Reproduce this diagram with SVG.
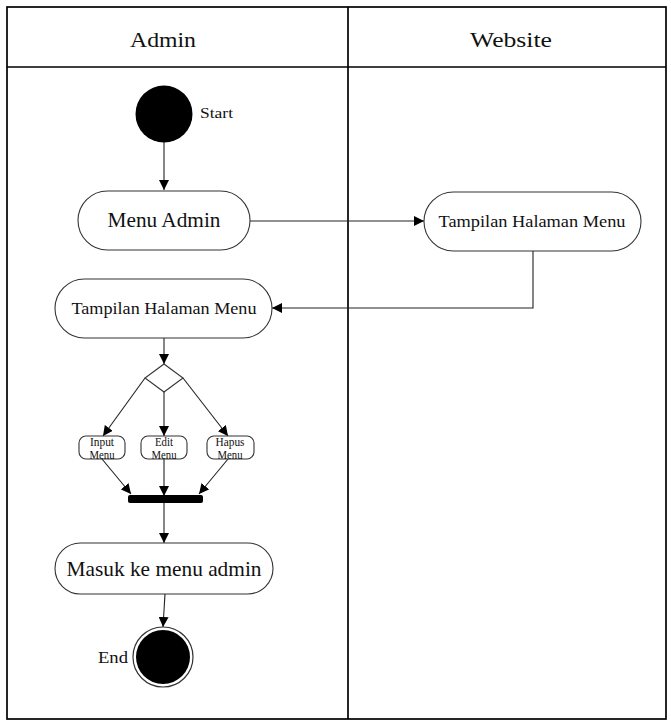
<svg xmlns="http://www.w3.org/2000/svg" width="671" height="720" viewBox="0 0 671 720">
  <style>
    text { font-family: 'Liberation Serif', 'DejaVu Serif', serif; fill: #111; }
    .lane { fill: none; stroke: #000; stroke-width: 1.7; }
    .act { fill: #fff; stroke: #333; stroke-width: 1.1; }
    .flow { fill: none; stroke: #222; stroke-width: 1.1; }
    .small { font-size: 12px; }
  </style>
  <defs>
    <marker id="arrow" viewBox="0 0 10 10" refX="10" refY="5" markerWidth="10" markerHeight="10" markerUnits="userSpaceOnUse" orient="auto">
      <path d="M0,0 L10,5 L0,10 z" fill="#000"/>
    </marker>
  </defs>

  <rect width="671" height="720" fill="#fff"/>

  <!-- swimlanes -->
  <g id="lanes">
    <rect class="lane" x="7" y="7" width="659" height="712"/>
    <line class="lane" x1="7" y1="67" x2="666" y2="67"/>
    <line class="lane" x1="348" y1="7" x2="348" y2="719"/>
    <text x="163" y="47" font-size="22" text-anchor="middle" textLength="66" lengthAdjust="spacingAndGlyphs">Admin</text>
    <text x="511" y="47" font-size="22" text-anchor="middle" textLength="82" lengthAdjust="spacingAndGlyphs">Website</text>
  </g>

  <!-- connectors -->
  <g id="connectors">
    <line class="flow" x1="164" y1="142" x2="164" y2="190" marker-end="url(#arrow)"/>
    <line class="flow" x1="250" y1="221" x2="424" y2="221" marker-end="url(#arrow)"/>
    <polyline class="flow" points="533,251 533,308 272,308" marker-end="url(#arrow)"/>
    <line class="flow" x1="164" y1="338" x2="164" y2="364" marker-end="url(#arrow)"/>
    <line class="flow" x1="145" y1="378" x2="103" y2="436" marker-end="url(#arrow)"/>
    <line class="flow" x1="164" y1="392" x2="164" y2="436" marker-end="url(#arrow)"/>
    <line class="flow" x1="183" y1="378" x2="228" y2="436" marker-end="url(#arrow)"/>
    <line class="flow" x1="102" y1="459" x2="131" y2="494" marker-end="url(#arrow)"/>
    <line class="flow" x1="164" y1="459" x2="164" y2="496" marker-end="url(#arrow)"/>
    <line class="flow" x1="228" y1="459" x2="199" y2="494" marker-end="url(#arrow)"/>
    <line class="flow" x1="164" y1="503" x2="164" y2="543" marker-end="url(#arrow)"/>
    <line class="flow" x1="165" y1="594" x2="163" y2="627" marker-end="url(#arrow)"/>
  </g>

  <g id="start">
    <circle cx="164" cy="114" r="28.5" fill="#000"/>
    <text x="200" y="118" font-size="15" textLength="33" lengthAdjust="spacingAndGlyphs">Start</text>
  </g>

  <g id="menu-admin">
    <rect class="act" x="78" y="191" width="172" height="59" rx="29.5"/>
    <text x="164" y="227" font-size="20" text-anchor="middle" textLength="113" lengthAdjust="spacingAndGlyphs">Menu Admin</text>
  </g>

  <g id="web-tampilan">
    <rect class="act" x="424" y="192" width="217" height="59" rx="29.5"/>
    <text x="532" y="227" font-size="17" text-anchor="middle" textLength="187" lengthAdjust="spacingAndGlyphs">Tampilan Halaman Menu</text>
  </g>

  <g id="admin-tampilan">
    <rect class="act" x="55" y="279" width="217" height="59" rx="29.5"/>
    <text x="164" y="314" font-size="17" text-anchor="middle" textLength="185" lengthAdjust="spacingAndGlyphs">Tampilan Halaman Menu</text>
  </g>

  <g id="decision">
    <polygon class="act" points="164,364 183,378 164,392 145,378"/>
  </g>

  <g id="input-menu">
    <rect class="act" x="79" y="436" width="46" height="23" rx="7"/>
    <text class="small" x="102" y="446" text-anchor="middle" textLength="24" lengthAdjust="spacingAndGlyphs">Input</text>
    <text class="small" x="102" y="459" text-anchor="middle" textLength="25" lengthAdjust="spacingAndGlyphs">Menu</text>
  </g>

  <g id="edit-menu">
    <rect class="act" x="141" y="436" width="46" height="23" rx="7"/>
    <text class="small" x="164" y="446" text-anchor="middle" textLength="18" lengthAdjust="spacingAndGlyphs">Edit</text>
    <text class="small" x="164" y="459" text-anchor="middle" textLength="25" lengthAdjust="spacingAndGlyphs">Menu</text>
  </g>

  <g id="hapus-menu">
    <rect class="act" x="207" y="436" width="47" height="23" rx="7"/>
    <text class="small" x="230" y="446" text-anchor="middle" textLength="29" lengthAdjust="spacingAndGlyphs">Hapus</text>
    <text class="small" x="230" y="459" text-anchor="middle" textLength="25" lengthAdjust="spacingAndGlyphs">Menu</text>
  </g>

  <g id="join">
    <rect x="128" y="495" width="75" height="8" rx="2" fill="#000"/>
  </g>

  <g id="masuk">
    <rect class="act" x="55" y="543" width="218" height="51" rx="25.5"/>
    <text x="164" y="576" font-size="21" text-anchor="middle" textLength="195" lengthAdjust="spacingAndGlyphs">Masuk ke menu admin</text>
  </g>

  <g id="end">
    <circle cx="163" cy="657" r="30" fill="#fff" stroke="#333" stroke-width="1.2"/>
    <circle cx="163" cy="657" r="27" fill="#000"/>
    <text x="98" y="663" font-size="17" textLength="30" lengthAdjust="spacingAndGlyphs">End</text>
  </g>
</svg>
